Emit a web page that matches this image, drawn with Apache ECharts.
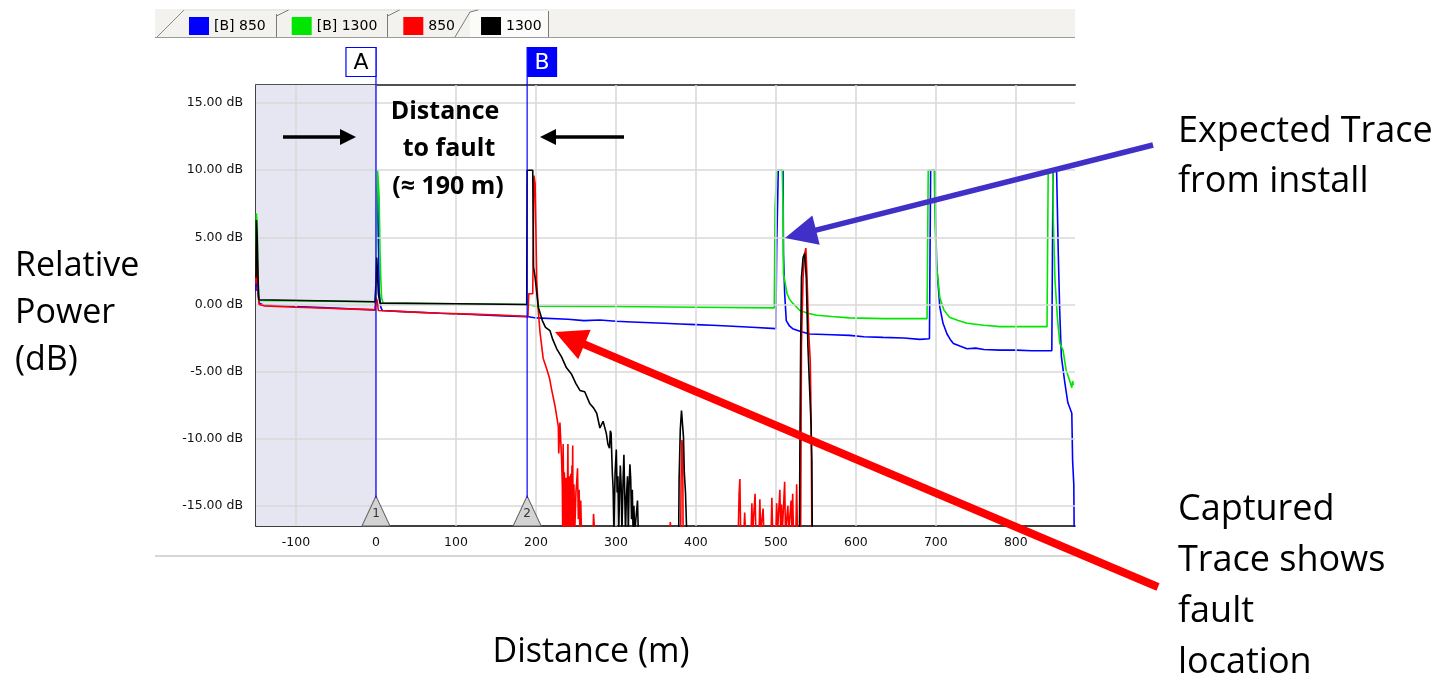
<!DOCTYPE html>
<html><head><meta charset="utf-8">
<script src="https://cdn.jsdelivr.net/npm/echarts@6/dist/echarts.min.js"></script>
<style>html,body{margin:0;padding:0;background:#fff}#c{width:1448px;height:673px}</style>
</head><body><div id="c"></div><script>
// ---- data (distance m, relative power dB); -17 = below the noise floor ----
const seriesNames = ['[B] 850', '[B] 1300', '850', '1300'];
const seriesColors = ['#0000ff', '#00e600', '#ff0000', '#000000'];

const blue850 = [[-150,1.0],[-149.5,3.0],[-148.5,2.5],[-147.5,0.8],[-146,0.1],[-140,-0.05],[-100,-0.15],[-60,-0.25],[-20,-0.35],[-1,-0.4],[0,2.0],[1,8.5],[2,9.0],[3,5.0],[4,1.0],[6,-0.2],[8,-0.45],[40,-0.55],[80,-0.65],[120,-0.75],[160,-0.85],[189,-0.9],[200,-1.0],[240,-1.1],[260,-1.2],[280,-1.15],[300,-1.25],[320,-1.3],[360,-1.4],[380,-1.45],[400,-1.5],[420,-1.55],[440,-1.6],[470,-1.7],[500,-1.8],[501,4.2],[503,10],[509,10],[509.5,3.8],[511,0.8],[513,-1.2],[517,-1.6],[521,-1.8],[530,-2.0],[542,-2.2],[570,-2.25],[592,-2.3],[610,-2.4],[634,-2.45],[660,-2.5],[680,-2.6],[692,-2.55],[693.5,10],[699,10],[699.5,7.5],[701,3.0],[705,-0.2],[709,-1.4],[714,-2.2],[718,-2.6],[722,-2.9],[730,-3.1],[739,-3.3],[750,-3.25],[760,-3.35],[780,-3.4],[801,-3.4],[820,-3.45],[845,-3.45],[846.5,10],[851,10],[851.5,8.5],[853,4.0],[855,-0.7],[857,-3.9],[861,-5.7],[865,-7.3],[867.5,-7.2],[870,-8.1],[871,-11.6],[872.5,-13.4],[873,-17]];

const green1300 = [[-150,2.0],[-149.5,6.8],[-148.5,6.0],[-147.5,2.0],[-146.5,0.3],[-145,0.25],[-1,0.2],[0,1.0],[1,7.0],[2,10],[3.5,10],[4,8.0],[5,4.0],[6,2.0],[7,0.5],[9,0.1],[100,0.05],[189,0.0],[200,-0.12],[300,-0.15],[400,-0.2],[498,-0.25],[499,7.2],[501,10],[508,10],[509,7.2],[509.5,2.3],[514,0.8],[517,0.4],[521,0.1],[530,-0.45],[540,-0.65],[551,-0.8],[570,-0.9],[592,-1.0],[634,-1.05],[689,-1.05],[690.5,10],[698,10],[699,6.0],[701,2.8],[705,0.5],[710,-0.4],[717,-0.95],[728,-1.2],[739,-1.4],[760,-1.55],[780,-1.65],[839,-1.65],[840.5,10],[846,10],[847,6.0],[849,1.8],[852,-1.0],[855,-2.9],[859,-3.4],[863,-4.9],[867,-5.6],[870,-6.2],[871,-5.7],[872,-6.0]];

const red850 = [[-150,1.5],[-149.5,4.5],[-148.5,3.5],[-147.5,1.0],[-146,0.0],[-140,-0.1],[-100,-0.2],[-60,-0.28],[-20,-0.36],[-1,-0.4],[0,0.5],[1.5,0.3],[3,-0.45],[40,-0.55],[80,-0.65],[120,-0.72],[160,-0.8],[190,-0.9],[191,0.8],[196,0.8],[197.5,9.6],[199,9.0],[201,1.8],[203,-0.5],[205,-2.0],[209,-4.0],[213.5,-4.8],[217,-5.5],[219.5,-6.3],[224,-7.6],[228,-9.1],[228.5,-11.1],[230,-8.8],[232,-11.4],[233,-13.5],[233.5,-17],[234,-10.4],[234.5,-13],[235,-17],[235.5,-12.5],[236,-13.3],[236.5,-17],[237,-15],[237.5,-12.9],[238,-12.8],[238.5,-17],[239,-17],[239.5,-13.1],[240,-10.4],[240.5,-17],[241,-14.5],[241.5,-12.8],[242,-13.2],[242.5,-17],[243,-17],[243.5,-12.6],[244,-13.6],[244.5,-17],[245,-12],[245.5,-14.5],[246,-10.5],[246.5,-17],[247,-15],[247.5,-13.4],[248,-13.5],[248.5,-17],[249,-17],[250,-14],[251,-13.2],[252,-12.2],[253,-16],[254,-13.8],[255,-17],[256,-14.6],[257,-17],[271.5,-17],[272,-15.6],[273,-15.6],[273.5,-17],[367.5,-17],[368,-16.2],[369,-17],[381,-17],[381.5,-13],[382.5,-10.1],[383.5,-10.5],[384,-17],[453,-17],[454,-14.1],[455,-13.0],[456,-17],[460,-17],[461,-15.5],[462,-17],[469,-17],[470,-14.8],[471,-17],[473,-17],[474,-14.1],[475,-17],[479,-17],[480,-14.5],[481,-17],[483,-17],[484,-15.2],[485,-17],[494,-17],[495,-14.4],[496,-17],[500,-17],[501,-14.8],[502,-17],[504,-17],[505,-13.8],[506,-17],[507,-14.9],[508,-17],[510,-17],[511,-13.2],[512,-17],[514,-17],[515,-15],[516,-17],[518,-17],[519,-14.6],[520,-17],[521,-14.1],[522,-17],[525,-17],[526,-13.4],[527,-17],[531,-17],[532,-3],[534,2],[536,3.8],[537.5,4.2],[539,2],[541,-2],[543,-4.2],[544,-8.1],[545,-17],[873,-17]];

const black1300 = [[-150,2.0],[-149.5,6.3],[-148.5,5.0],[-147.5,2.0],[-146.5,0.35],[-145,0.3],[-1,0.2],[0,1.5],[1,3.5],[2,3.5],[3,0.8],[5,0.1],[100,0.05],[188.5,0.0],[189,10],[196,10],[197,2.8],[199,2.0],[203,-0.2],[208,-1.2],[212,-1.7],[217.5,-1.94],[221,-2.6],[226,-3.3],[232,-3.9],[238,-4.7],[244.6,-5.2],[250,-5.9],[255,-6.4],[261,-6.5],[267.5,-7.4],[272,-7.7],[276,-8.1],[280,-9.2],[284,-8.7],[288,-9.6],[290,-10.4],[292,-10.7],[293,-9.4],[294,-9.6],[295.5,-12.5],[296.5,-13.7],[297.5,-17],[299,-12.5],[300.5,-10.8],[301.5,-14],[302.5,-12.8],[303.5,-17],[304.5,-14.2],[305.5,-12],[306.5,-13.4],[307.5,-17],[309,-13],[310,-11.2],[311,-14],[312,-17],[313,-14.5],[314.5,-12.8],[315.5,-17],[316.5,-13.5],[317.5,-11.9],[318.5,-13],[319.5,-16],[320.5,-13.8],[321.5,-17],[322.5,-15],[323.5,-17],[326,-17],[327,-14.6],[328,-17],[378.5,-17],[379,-13],[380.5,-9.3],[382,-7.9],[383.5,-7.9],[384.5,-9.9],[385.5,-12.5],[387,-14],[388.5,-17],[529.5,-17],[530,-11],[531,-3],[532,2],[534,3.5],[536,3.8],[538,2],[540,-3],[542,-6],[544,-9],[545,-11.6],[545.5,-17],[873,-17]];

const xTicks = [-100, 0, 100, 200, 300, 400, 500, 600, 700, 800];
const yTicks = [-15, -10, -5, 0, 5, 10, 15];
const xRange = [-150, 874];
const yRange = [-16.5, 16.35];
const markerA = 0, markerB = 189;
const launchEnd = 0; // shaded launch region [-150, 0]

const FONT = '"Open Sans"';
const chart = echarts.init(document.getElementById('c'), null, {renderer: 'canvas'});

const traceData = [blue850, green1300, red850, black1300];
const traces = traceData.map((d, i) => ({
  name: seriesNames[i], type: 'line', data: d, showSymbol: false, symbol: 'none',
  clip: true, z: 3 + i, color: seriesColors[i],
  itemStyle: {color: seriesColors[i]},
  lineStyle: {color: seriesColors[i], width: 1.6}, animation: false
}));

const option = {
  animation: false,
  backgroundColor: '#fff',
  grid: {left: 256, right: 373, top: 85, bottom: 147, containLabel: false},
  legend: {
    data: seriesNames, left: 189, top: 17, padding: 0, icon: 'rect', itemWidth: 20, itemHeight: 18,
    itemGap: 26, selectedMode: false, z: 20,
    textStyle: {fontFamily: 'DejaVu Sans', fontSize: 14, color: '#000'}
  },
  xAxis: [{
    type: 'value', min: xRange[0], max: xRange[1],
    splitLine: {show: false}, axisTick: {show: false},
    axisLine: {show: true, onZero: false, lineStyle: {color: '#000', width: 1.5}},
    axisLabel: {customValues: xTicks, fontFamily: 'DejaVu Sans', fontSize: 12.5, color: '#111', margin: 10}
  }, {
    type: 'value', position: 'top', min: xRange[0], max: xRange[1],
    splitLine: {show: false}, axisTick: {show: false}, axisLabel: {show: false},
    axisLine: {show: true, onZero: false, lineStyle: {color: '#505050', width: 2}}
  }],
  yAxis: {
    type: 'value', min: yRange[0], max: yRange[1],
    splitLine: {show: false}, axisTick: {show: false},
    axisLine: {show: true, onZero: false, lineStyle: {color: '#000', width: 1.5}},
    axisLabel: {customValues: yTicks, fontFamily: 'DejaVu Sans', fontSize: 12.5, color: '#111', margin: 13,
      formatter: v => v.toFixed(2) + ' dB'}
  },
  series: [
    {type: 'line', data: [[xRange[0], -30]], symbol: 'none', z: 1, silent: true, clip: true,
     markArea: {silent: true, itemStyle: {color: '#e6e6f2'}, data: [[{xAxis: xRange[0]}, {xAxis: launchEnd}]]}},
    {type: 'line', data: [[xRange[0], -30]], symbol: 'none', z: 2, silent: true, clip: true,
     markLine: {silent: true, symbol: ['none','none'], label: {show: false},
       lineStyle: {color: '#d9d9d9', width: 1.5, type: 'solid'},
       data: xTicks.map(v => ({xAxis: v})).concat(yTicks.map(v => ({yAxis: v})))}},
    ...traces,
    {type: 'line', data: [[xRange[0], -30]], symbol: 'none', z: 20, silent: true, clip: true,
     markPoint: {silent: true, symbol: 'triangle', symbolSize: [28, 30], symbolOffset: [0, -15],
       itemStyle: {color: '#d3d3d3', borderColor: '#606060', borderWidth: 1},
       label: {show: true, position: 'inside', color: '#333', fontFamily: 'DejaVu Sans', fontSize: 12, offset: [0, 3],
         formatter: p => p.name},
       data: [{name: '1', coord: [markerA, yRange[0]]}, {name: '2', coord: [markerB, yRange[0]]}]}}
  ]
};
chart.setOption(option);

// ---- overlay: tabs, marker flags, annotations ----
function arrow(x1, y1, x2, y2, color, w, hl, hw) {
  const dx = x2 - x1, dy = y2 - y1, L = Math.hypot(dx, dy), ux = dx / L, uy = dy / L;
  const bx = x2 - ux * hl, by = y2 - uy * hl, px = -uy, py = ux;
  return [
    {type: 'line', z: 100, shape: {x1, y1, x2: bx + ux * 2, y2: by + uy * 2}, style: {stroke: color, lineWidth: w}},
    {type: 'polygon', z: 100, shape: {points: [[x2, y2], [bx + px * hw / 2, by + py * hw / 2], [bx - px * hw / 2, by - py * hw / 2]]}, style: {fill: color}}
  ];
}
function txt(text, x, y, size, opts = {}) {
  return {type: 'text', z: 100, style: Object.assign({text, x, y, fill: '#000', font: (opts.bold ? 'bold ' : '') + size + 'px ' + (opts.family || FONT),
    textAlign: opts.align || 'left', align: opts.align || 'left', textVerticalAlign: 'middle', verticalAlign: 'middle'}, opts.style || {})};
}

const ax = chart.convertToPixel({xAxisIndex: 0}, markerA);
const bx = chart.convertToPixel({xAxisIndex: 0}, markerB);
const yBot = chart.convertToPixel({yAxisIndex: 0}, yRange[0]);

const g = [];
// window chrome (below the legend)
g.push({type: 'rect', z: 0, shape: {x: 155, y: 9, width: 920, height: 28}, style: {fill: '#f3f2ef'}});
g.push({type: 'rect', z: 0, shape: {x: 470, y: 10, width: 78, height: 27}, style: {fill: '#fbfbfa'}});
g.push({type: 'line', z: 1, shape: {x1: 155, y1: 37.5, x2: 1075, y2: 37.5}, style: {stroke: '#9a9a9a', lineWidth: 1}});
g.push({type: 'line', z: 1, shape: {x1: 157, y1: 37, x2: 184, y2: 10}, style: {stroke: '#8a8a8a', lineWidth: 1}});
g.push({type: 'line', z: 1, shape: {x1: 184, y1: 10, x2: 548, y2: 10}, style: {stroke: '#e0e0e0', lineWidth: 1}});
[276.5, 387.5].forEach(x => {
  g.push({type: 'line', z: 1, shape: {x1: x, y1: 14, x2: x, y2: 37}, style: {stroke: '#7a7a7a', lineWidth: 1}});
  g.push({type: 'line', z: 1, shape: {x1: x, y1: 16, x2: x + 12, y2: 10}, style: {stroke: '#7a7a7a', lineWidth: 1}});
});
g.push({type: 'line', z: 1, shape: {x1: 455, y1: 37, x2: 470, y2: 12}, style: {stroke: '#7a7a7a', lineWidth: 1}});
g.push({type: 'line', z: 1, shape: {x1: 470, y1: 12, x2: 478, y2: 10}, style: {stroke: '#7a7a7a', lineWidth: 1}});
g.push({type: 'line', z: 1, shape: {x1: 548.5, y1: 11, x2: 548.5, y2: 37}, style: {stroke: '#7a7a7a', lineWidth: 1}});
g.push({type: 'line', z: 1, shape: {x1: 155, y1: 556, x2: 1075, y2: 556}, style: {stroke: '#d6d6d6', lineWidth: 2}});

// marker flags A / B
g.push({type: 'line', z: 60, shape: {x1: ax, y1: 47, x2: ax, y2: yBot - 28}, style: {stroke: '#0000ff', lineWidth: 1.2}});
g.push({type: 'rect', z: 60, shape: {x: ax - 30, y: 47.5, width: 30, height: 29}, style: {fill: '#fff', stroke: '#0000ff', lineWidth: 1.2}});
g.push(txt('A', ax - 15, 63, 22, {align: 'center', family: 'DejaVu Sans'}));
g.push({type: 'line', z: 60, shape: {x1: bx, y1: 47, x2: bx, y2: yBot - 28}, style: {stroke: '#0000ff', lineWidth: 1.2}});
g.push({type: 'rect', z: 60, shape: {x: bx, y: 47, width: 30, height: 30}, style: {fill: '#0000ff'}});
g.push(txt('B', bx + 15, 63, 22, {align: 'center', family: 'DejaVu Sans', style: {fill: '#fff'}}));

// annotations
g.push(txt('Relative', 15, 266, 34));
g.push(txt('Power', 15, 313, 34));
g.push(txt('(dB)', 15, 360, 34));
g.push(txt('Distance (m)', 591, 652, 34, {align: 'center'}));
g.push(txt('Expected Trace', 1178, 132, 36));
g.push(txt('from install', 1178, 182, 36));
g.push(txt('Captured', 1178, 510, 36));
g.push(txt('Trace shows', 1178, 561, 36));
g.push(txt('fault', 1178, 612, 36));
g.push(txt('location', 1178, 663, 36));
g.push(txt('Distance', 445, 112, 25, {align: 'center', bold: true}));
g.push(txt('to fault', 449, 149, 25, {align: 'center', bold: true}));
g.push(txt('(\u2248 190 m)', 448, 187, 25, {align: 'center', bold: true}));

g.push(...arrow(283, 137, 356, 137, '#000', 3.5, 16, 16));
g.push(...arrow(624, 137, 540, 137, '#000', 3.5, 16, 16));
g.push(...arrow(1153, 145, 785, 238, '#4030c8', 5.5, 32, 30));
g.push(...arrow(1158, 587, 555, 332, '#ff0000', 8, 32, 32));

chart.setOption({graphic: {elements: g}});
</script></body></html>
